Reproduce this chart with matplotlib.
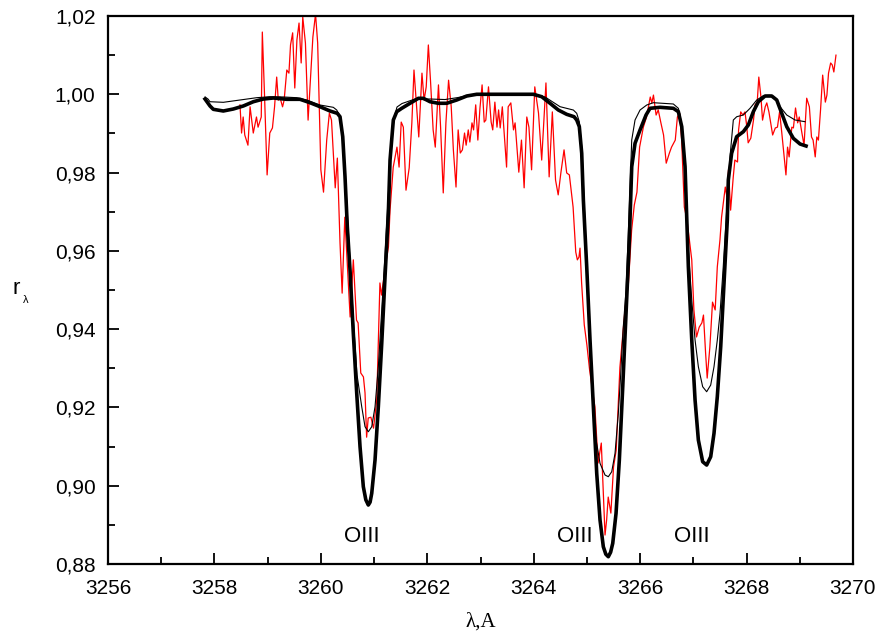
import numpy as np
import matplotlib
matplotlib.use('Agg')
import matplotlib.pyplot as plt
from matplotlib.ticker import MultipleLocator, FuncFormatter

plt.rcParams['font.family'] = ['Liberation Sans', 'DejaVu Sans']

# observed spectrum (red)
obs_wl = [3258.48, 3258.51, 3258.54, 3258.57, 3258.63, 3258.67, 3258.73, 3258.79, 3258.82, 3258.88,
          3258.90, 3258.94, 3258.99, 3259.04, 3259.09, 3259.13, 3259.17, 3259.20, 3259.23, 3259.28,
          3259.31, 3259.36, 3259.40, 3259.43, 3259.47, 3259.51, 3259.55, 3259.59, 3259.63, 3259.66,
          3259.71, 3259.76, 3259.85, 3259.90, 3259.94, 3260.00, 3260.05, 3260.11, 3260.16, 3260.20,
          3260.23, 3260.27, 3260.31, 3260.36, 3260.40, 3260.45, 3260.55, 3260.61, 3260.67, 3260.70,
          3260.75, 3260.80, 3260.83, 3260.86, 3260.89, 3260.94, 3260.99, 3261.05, 3261.11, 3261.14,
          3261.21, 3261.27, 3261.30, 3261.36, 3261.43, 3261.47, 3261.51, 3261.55, 3261.60, 3261.66,
          3261.71, 3261.75, 3261.80, 3261.84, 3261.90, 3261.94, 3261.98, 3262.02, 3262.06, 3262.11,
          3262.15, 3262.21, 3262.25, 3262.30, 3262.35, 3262.40, 3262.45, 3262.49, 3262.54, 3262.58,
          3262.62, 3262.66, 3262.70, 3262.73, 3262.77, 3262.80, 3262.84, 3262.87, 3262.91, 3262.95,
          3262.99, 3263.03, 3263.07, 3263.10, 3263.15, 3263.20, 3263.23, 3263.27, 3263.31, 3263.34,
          3263.37, 3263.41, 3263.45, 3263.49, 3263.52, 3263.57, 3263.62, 3263.65, 3263.72, 3263.77,
          3263.82, 3263.87, 3263.91, 3263.96, 3264.02, 3264.09, 3264.15, 3264.23, 3264.29, 3264.35,
          3264.41, 3264.46, 3264.51, 3264.57, 3264.62, 3264.67, 3264.71, 3264.74, 3264.79, 3264.82,
          3264.85, 3264.87, 3264.90, 3264.95, 3265.00, 3265.05, 3265.15, 3265.21, 3265.27, 3265.31,
          3265.34, 3265.37, 3265.40, 3265.45, 3265.50, 3265.55, 3265.62, 3265.72, 3265.78, 3265.84,
          3265.89, 3265.94, 3265.99, 3266.06, 3266.12, 3266.19, 3266.22, 3266.25, 3266.30, 3266.34,
          3266.39, 3266.44, 3266.49, 3266.55, 3266.59, 3266.66, 3266.70, 3266.74, 3266.78, 3266.83,
          3266.88, 3266.97, 3267.01, 3267.06, 3267.11, 3267.16, 3267.19, 3267.23, 3267.26, 3267.31,
          3267.36, 3267.41, 3267.45, 3267.50, 3267.53, 3267.60, 3267.63, 3267.66, 3267.70, 3267.75,
          3267.78, 3267.83, 3267.85, 3267.89, 3267.93, 3267.97, 3268.00, 3268.03, 3268.08, 3268.13,
          3268.16, 3268.20, 3268.23, 3268.27, 3268.30, 3268.35, 3268.38, 3268.42, 3268.45, 3268.49,
          3268.54, 3268.58, 3268.62, 3268.66, 3268.70, 3268.74, 3268.77, 3268.80, 3268.85, 3268.88,
          3268.92, 3268.96, 3268.99, 3269.04, 3269.08, 3269.13, 3269.18, 3269.22, 3269.25, 3269.29,
          3269.32, 3269.35, 3269.39, 3269.43, 3269.48, 3269.51, 3269.54, 3269.58, 3269.61, 3269.64,
          3269.68]
obs_r = [0.9973, 0.9901, 0.9942, 0.9896, 0.9870, 0.9968, 0.9901, 0.9942, 0.9916, 0.9942,
         1.0159, 1.0003, 0.9794, 0.9901, 0.9914, 0.9968, 1.0044, 0.9985, 0.9993, 0.9968,
         0.9985, 1.0062, 1.0054, 1.0126, 1.0157, 1.0016, 1.0139, 1.0182, 1.0080, 1.0197,
         1.0131, 0.9934, 1.0146, 1.0205, 1.0131, 0.9807, 0.9750, 0.9883, 0.9952, 0.9934,
         0.9858, 0.9761, 0.9837, 0.9620, 0.9492, 0.9686, 0.9431, 0.9577, 0.9423, 0.9416,
         0.9288, 0.9278, 0.9237, 0.9124, 0.9173, 0.9175, 0.9147, 0.9219, 0.9518, 0.9487,
         0.9559, 0.9610, 0.9704, 0.9814, 0.9865, 0.9814, 0.9929, 0.9916, 0.9755, 0.9812,
         0.9927, 1.0062, 0.9968, 0.9891, 1.0054, 0.9985, 1.0019, 1.0126, 1.0036, 0.9909,
         0.9865, 1.0024, 0.9916, 0.9748, 0.9927, 1.0036, 0.9968, 0.9858, 0.9763, 0.9909,
         0.9850, 0.9858, 0.9901, 0.9870, 0.9909, 0.9878, 0.9927, 0.9909, 0.9973, 0.9883,
         0.9965, 1.0024, 0.9929, 0.9934, 1.0019, 0.9929, 0.9909, 0.9980, 0.9916, 0.9960,
         0.9914, 0.9968, 0.9891, 0.9814, 0.9968, 0.9978, 0.9909, 0.9927, 0.9801, 0.9883,
         0.9761, 0.9942, 0.9916, 0.9807, 1.0019, 0.9952, 0.9832, 1.0029, 0.9789, 0.9955,
         0.9781, 0.9743, 0.9799, 0.9858, 0.9799, 0.9794, 0.9748, 0.9712, 0.9597, 0.9577,
         0.9584, 0.9607, 0.9518, 0.9411, 0.9359, 0.9296, 0.9201, 0.9058, 0.9109, 0.8971,
         0.8874, 0.8912, 0.8971, 0.8930, 0.9048, 0.9091, 0.9303, 0.9457, 0.9518, 0.9653,
         0.9717, 0.9750, 0.9865, 0.9916, 0.9942, 0.9993, 0.9978, 0.9998, 0.9947, 0.9960,
         0.9927, 0.9896, 0.9824, 0.9850, 0.9865, 0.9883, 0.9942, 0.9952, 0.9883, 0.9712,
         0.9679, 0.9577, 0.9449, 0.9380, 0.9405, 0.9416, 0.9436, 0.9339, 0.9275, 0.9354,
         0.9469, 0.9449, 0.9559, 0.9628, 0.9686, 0.9763, 0.9738, 0.9807, 0.9704, 0.9789,
         0.9832, 0.9827, 0.9909, 0.9955, 0.9947, 0.9955, 0.9922, 0.9876, 0.9888, 0.9934,
         0.9973, 0.9980, 1.0044, 0.9993, 0.9934, 0.9968, 0.9978, 0.9955, 0.9929, 0.9896,
         0.9914, 0.9916, 0.9955, 0.9904, 0.9850, 0.9794, 0.9865, 0.9840, 0.9916, 0.9914,
         0.9965, 0.9927, 0.9942, 0.9901, 0.9870, 0.9990, 0.9968, 0.9891, 0.9883, 0.9840,
         0.9891, 0.9883, 0.9960, 1.0049, 0.9980, 0.9998, 1.0054, 1.0080, 1.0075, 1.0057,
         1.0100]

# model 1 (thick black)
m1_wl = [3257.823, 3257.917, 3257.979, 3258.167, 3258.355, 3258.543, 3258.731, 3258.919, 3259.107, 3259.358,
         3259.608, 3259.796, 3259.984, 3260.172, 3260.309, 3260.360, 3260.411, 3260.454, 3260.497, 3260.548,
         3260.610, 3260.674, 3260.736, 3260.798, 3260.845, 3260.892, 3260.925, 3260.956, 3261.018, 3261.080,
         3261.144, 3261.206, 3261.268, 3261.300, 3261.362, 3261.426, 3261.520, 3261.676, 3261.832, 3261.926,
         3262.052, 3262.208, 3262.365, 3262.553, 3262.741, 3262.929, 3263.993, 3264.151, 3264.307, 3264.463,
         3264.620, 3264.758, 3264.808, 3264.857, 3264.902, 3264.933, 3264.996, 3265.058, 3265.121, 3265.184,
         3265.246, 3265.308, 3265.355, 3265.402, 3265.445, 3265.485, 3265.547, 3265.609, 3265.673, 3265.735,
         3265.797, 3265.842, 3265.904, 3265.998, 3266.111, 3266.186, 3266.374, 3266.624, 3266.718, 3266.782,
         3266.844, 3266.906, 3266.970, 3267.032, 3267.094, 3267.175, 3267.250, 3267.326, 3267.388, 3267.450,
         3267.514, 3267.576, 3267.638, 3267.657, 3267.719, 3267.813, 3267.939, 3268.033, 3268.127, 3268.221,
         3268.347, 3268.473, 3268.567, 3268.661, 3268.755, 3268.879, 3269.005, 3269.118]
m1_r = [0.99879, 0.99701, 0.99616, 0.99573, 0.99624, 0.99701, 0.99810, 0.99879, 0.99905, 0.99872,
        0.99872, 0.99785, 0.99683, 0.99573, 0.99514, 0.99427, 0.98916, 0.97894, 0.96617, 0.95511,
        0.93893, 0.92360, 0.90998, 0.89976, 0.89640, 0.89506, 0.89580, 0.89805, 0.90656, 0.92018,
        0.93638, 0.95339, 0.96959, 0.98321, 0.99343, 0.99555, 0.99642, 0.99770, 0.99897, 0.99897,
        0.99810, 0.99770, 0.99770, 0.99854, 0.99956, 1.00000, 1.00000, 0.99938, 0.99770, 0.99598,
        0.99488, 0.99427, 0.99343, 0.99172, 0.98492, 0.97299, 0.95595, 0.93722, 0.92018, 0.90316,
        0.89123, 0.88441, 0.88250, 0.88186, 0.88300, 0.88528, 0.89294, 0.90656, 0.92529, 0.94404,
        0.96277, 0.98150, 0.98748, 0.99087, 0.99471, 0.99642, 0.99667, 0.99642, 0.99555, 0.99172,
        0.98150, 0.95595, 0.93722, 0.92189, 0.91167, 0.90613, 0.90528, 0.90741, 0.91338, 0.92273,
        0.93551, 0.95171, 0.96788, 0.97810, 0.98492, 0.98916, 0.99044, 0.99215, 0.99555, 0.99810,
        0.99956, 0.99956, 0.99854, 0.99514, 0.99172, 0.98875, 0.98730, 0.98679]

# model 2 (thin black)
m2_wl = [3257.823, 3257.879, 3257.917, 3258.167, 3258.481, 3258.795, 3259.045, 3259.294, 3259.546, 3259.734,
         3259.984, 3260.234, 3260.298, 3260.347, 3260.398, 3260.454, 3260.510, 3260.567, 3260.623, 3260.680,
         3260.768, 3260.830, 3260.892, 3260.956, 3261.018, 3261.080, 3261.144, 3261.206, 3261.262, 3261.319,
         3261.375, 3261.431, 3261.525, 3261.770, 3262.052, 3262.333, 3262.578, 3262.803, 3263.993, 3264.213,
         3264.495, 3264.745, 3264.808, 3264.857, 3264.908, 3264.946, 3264.996, 3265.058, 3265.105, 3265.152,
         3265.246, 3265.340, 3265.402, 3265.466, 3265.528, 3265.590, 3265.632, 3265.679, 3265.735, 3265.791,
         3265.842, 3265.904, 3265.998, 3266.124, 3266.248, 3266.624, 3266.718, 3266.750, 3266.788, 3266.844,
         3266.906, 3266.970, 3267.032, 3267.094, 3267.175, 3267.250, 3267.326, 3267.388, 3267.450, 3267.501,
         3267.558, 3267.614, 3267.661, 3267.689, 3267.751, 3267.815, 3267.939, 3268.065, 3268.191, 3268.315,
         3268.441, 3268.535, 3268.629, 3268.755, 3268.911, 3269.098]
m2_r = [0.99931, 0.99879, 0.99810, 0.99795, 0.99854, 0.99913, 0.99938, 0.99931, 0.99913, 0.99854,
        0.99726, 0.99667, 0.99598, 0.99471, 0.99087, 0.98065, 0.96660, 0.95255, 0.93978, 0.92828,
        0.92018, 0.91507, 0.91379, 0.91507, 0.92018, 0.93040, 0.94488, 0.95894, 0.97299, 0.98576,
        0.99394, 0.99675, 0.99764, 0.99879, 0.99879, 0.99866, 0.99917, 0.99982, 1.00000, 0.99931,
        0.99683, 0.99598, 0.99514, 0.99299, 0.98576, 0.97299, 0.95595, 0.93722, 0.92189, 0.91338,
        0.90572, 0.90273, 0.90230, 0.90357, 0.90827, 0.91849, 0.92784, 0.93978, 0.95000, 0.96916,
        0.98832, 0.99343, 0.99598, 0.99726, 0.99785, 0.99752, 0.99642, 0.99471, 0.99087, 0.98065,
        0.96021, 0.94744, 0.93722, 0.93040, 0.92529, 0.92401, 0.92572, 0.93040, 0.93722, 0.94404,
        0.95511, 0.96788, 0.97810, 0.98405, 0.99343, 0.99427, 0.99471, 0.99642, 0.99854, 0.99964,
        0.99974, 0.99897, 0.99683, 0.99471, 0.99343, 0.99300]

line_labels = ['OIII', 'OIII', 'OIII']
line_label_wl = [3260.77, 3264.78, 3266.98]
line_label_r = 0.8869

fig = plt.figure(figsize=(8.81, 6.35), dpi=100)
ax = fig.add_axes([108 / 881, 1 - 564 / 635, (853 - 108) / 881, (564 - 16) / 635])

ax.plot(obs_wl, obs_r, color='#ff0000', lw=0.9, zorder=2)
ax.plot(m2_wl, m2_r, color='black', lw=0.8, zorder=3)
ax.plot(m1_wl, m1_r, color='black', lw=2.6, zorder=4, solid_joinstyle='round')

for lab, wl in zip(line_labels, line_label_wl):
    ax.text(wl, line_label_r, lab, fontsize=16, ha='center', va='center')

ax.set_xlim(3256, 3270)
ax.set_ylim(0.88, 1.02)
ax.xaxis.set_major_locator(MultipleLocator(2))
ax.xaxis.set_minor_locator(MultipleLocator(1))
ax.yaxis.set_major_locator(MultipleLocator(0.02))
ax.yaxis.set_minor_locator(MultipleLocator(0.01))
ax.yaxis.set_major_formatter(FuncFormatter(lambda v, _: f'{v:.2f}'.replace('.', ',')))
ax.xaxis.set_major_formatter(FuncFormatter(lambda v, _: f'{v:.0f}'))
ax.tick_params(which='both', direction='in', top=False, right=False, labelsize=15, width=1.3)
ax.tick_params(which='major', length=8)
ax.tick_params(which='minor', length=5)
ax.tick_params(axis='x', which='major', pad=11)
ax.tick_params(axis='y', which='major', pad=9)
for sp in ax.spines.values():
    sp.set_linewidth(1.6)

ax.set_xlabel('λ,A', fontsize=15, family=['Liberation Serif', 'DejaVu Serif'], labelpad=10)
fig.text(16 / 881, 1 - 288 / 635, 'r', fontsize=16, ha='center', va='center')
fig.text(26 / 881, 1 - 300 / 635, 'λ', fontsize=8, ha='center', va='center')

fig.savefig('out.png', dpi=100)
